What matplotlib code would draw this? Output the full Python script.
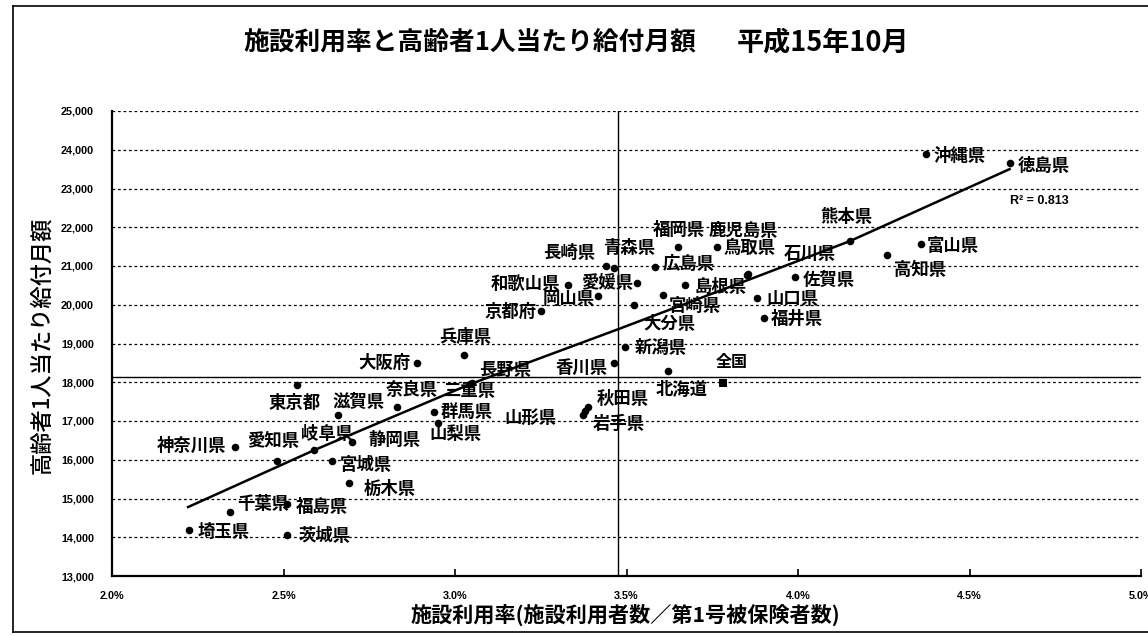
import matplotlib
matplotlib.use("Agg")
import matplotlib.pyplot as plt
from matplotlib.ticker import FixedLocator, FuncFormatter
from matplotlib.lines import Line2D

plt.rcParams['font.family'] = ['Noto Sans CJK JP', 'DejaVu Sans']

# ---------------- data ----------------
prefectures = ["北海道", "青森県", "岩手県", "宮城県", "秋田県", "山形県", "福島県",
               "茨城県", "栃木県", "群馬県", "埼玉県", "千葉県", "東京都", "神奈川県",
               "新潟県", "富山県", "石川県", "福井県", "山梨県", "長野県", "岐阜県",
               "静岡県", "愛知県", "三重県", "滋賀県", "京都府", "大阪府", "兵庫県",
               "奈良県", "和歌山県", "鳥取県", "島根県", "岡山県", "広島県", "山口県",
               "徳島県", "香川県", "愛媛県", "高知県", "福岡県", "佐賀県", "長崎県",
               "熊本県", "大分県", "宮崎県", "鹿児島県", "沖縄県"]
usage_rate = [3.62, 3.463, 3.373, 2.64, 3.388, 3.38, 2.51,
              2.51, 2.69, 2.94, 2.225, 2.345, 2.54, 2.36,
              3.495, 4.36, 3.853, 3.901, 2.95, 3.05, 2.59,
              2.70, 2.48, 3.044, 2.66, 3.25, 2.888, 3.025,
              2.83, 3.33, 3.763, 3.670, 3.417, 3.583, 3.881,
              4.617, 3.463, 3.531, 4.26, 3.649, 3.990, 3.44,
              4.152, 3.522, 3.605, 3.851, 4.373]
benefit = [18280, 20950, 17150, 15980, 17360, 17250, 14870,
           14070, 15390, 17230, 14175, 14650, 17920, 16320,
           18910, 21560, 20790, 19650, 16940, 17970, 16250,
           16470, 15980, 17950, 17150, 19830, 18500, 18710,
           17370, 20520, 21500, 20520, 20220, 20970, 20165,
           23660, 18485, 20550, 21290, 21500, 20710, 21000,
           21645, 20000, 20240, 20775, 23880]

trend_x = [2.222, 2.59, 3.044, 3.476, 3.837, 4.152, 4.617]
trend_y = [14780, 16250, 17950, 19370, 20580, 21645, 23500]
r_squared = 0.813

national_point = (3.78, 17990)
national_rate = 3.476
national_benefit = 18130

x_ticks = [2.0, 2.5, 3.0, 3.5, 4.0, 4.5, 5.0]
y_ticks = list(range(13000, 25001, 1000))

# ---------------- label layout (pixel offsets from each dot) ----------------
label_layout = {
    "北海道": (-12, -19, "left"), "青森県": (-11, 20, "left"), "岩手県": (10, -9, "left"),
    "宮城県": (8, -4, "left"), "秋田県": (9, 8, "left"), "山形県": (-81, -7, "left"),
    "福島県": (9, -3, "left"), "茨城県": (12, -1, "left"), "栃木県": (15, -6, "left"),
    "群馬県": (6, 0, "left"), "埼玉県": (8, -2, "left"), "千葉県": (7, 8, "left"),
    "東京都": (-29, -18, "left"), "神奈川県": (-9, 2, "right"), "新潟県": (10, -1, "left"),
    "富山県": (5, -2, "left"), "石川県": (36, 20, "left"), "福井県": (7, -1, "left"),
    "山梨県": (-8, -11, "left"), "長野県": (7, 13, "left"), "岐阜県": (-13, 16, "left"),
    "静岡県": (16, 2, "left"), "愛知県": (-30, 20, "left"), "三重県": (-26, -7, "left"),
    "滋賀県": (-6, 13, "left"), "京都府": (-4, -1, "right"), "大阪府": (-6, 0, "right"),
    "兵庫県": (-24, 18, "left"), "奈良県": (-11, 17, "left"), "和歌山県": (-8, 1, "right"),
    "鳥取県": (7, -1, "left"), "島根県": (10, -2, "left"), "岡山県": (-3, -3, "right"),
    "広島県": (8, 3, "left"), "山口県": (9, -1, "left"), "徳島県": (8, -3, "left"),
    "香川県": (-6, -5, "right"), "愛媛県": (-4, 0, "right"), "高知県": (7, -15, "left"),
    "福岡県": (-25, 17, "left"), "佐賀県": (8, -3, "left"), "長崎県": (-11, 13, "right"),
    "熊本県": (-30, 24, "left"), "大分県": (9, -19, "left"), "宮崎県": (6, -11, "left"),
    "鹿児島県": (-38, 44, "left"), "沖縄県": (8, -2, "left"),
}

# ---------------- figure ----------------
W, H = 1148, 636
fig = plt.figure(figsize=(W / 100, H / 100), dpi=100)
ax = fig.add_axes([112 / W, 1 - 576 / H, (1141 - 112) / W, (576 - 111) / H])

ax.set_xlim(2.0, 5.0)
ax.set_ylim(13000, 25000)

# grid
ax.yaxis.grid(True, linestyle=(0, (2.2, 2.2)), color="black", linewidth=0.9)
ax.set_axisbelow(True)

for s in ["top", "right"]:
    ax.spines[s].set_visible(False)
for s in ["left", "bottom"]:
    ax.spines[s].set_linewidth(1.6)
    ax.spines[s].set_color("black")

ax.xaxis.set_major_locator(FixedLocator(x_ticks))
ax.xaxis.set_major_formatter(FuncFormatter(lambda v, p: f"{v:.1f}%"))
ax.yaxis.set_major_locator(FixedLocator(y_ticks))
ax.yaxis.set_major_formatter(FuncFormatter(lambda v, p: f"{int(v):,}"))
ax.tick_params(axis="x", direction="in", length=5, width=1.2, pad=11)
ax.tick_params(axis="y", length=0, pad=13)
for lab in ax.get_xticklabels() + ax.get_yticklabels():
    lab.set_fontfamily(["Liberation Sans", "DejaVu Sans"])
    lab.set_fontweight("bold")
    lab.set_fontsize(7.8)

# reference lines (national averages)
ax.axvline(national_rate, color="black", linewidth=1.0)
ax.axhline(national_benefit, color="black", linewidth=1.0)

# trend line
ax.plot(trend_x, trend_y, color="black", linewidth=1.8, zorder=3)

# points
ax.scatter(usage_rate, benefit, s=30, color="black", zorder=4, linewidths=0)

for name, xv, yv in zip(prefectures, usage_rate, benefit):
    dx, dy, ha = label_layout[name]
    ax.annotate(name, (xv, yv), xytext=(dx, dy), textcoords="offset pixels",
                ha=ha, va="center", fontsize=12.5, fontweight="bold", zorder=5)

# national point
ax.scatter([national_point[0]], [national_point[1]], marker="s", s=32,
           color="black", zorder=4, linewidths=0)
ax.annotate("全国", national_point, xytext=(-7, 21), textcoords="offset pixels",
            ha="left", va="center", fontsize=11.5, fontweight="bold", zorder=5)

# R squared
ax.annotate(f"R² = {r_squared:.3f}", (trend_x[-1], trend_y[-1]), xytext=(0, -32),
            textcoords="offset pixels", ha="left", va="center",
            fontsize=9, fontweight="bold", family=["Liberation Sans", "DejaVu Sans"])

# titles
fig.text(243 / W, 1 - 42 / H, "施設利用率と高齢者1人当たり給付月額",
         ha="left", va="center", fontsize=18.5, fontweight="bold")
fig.text(823 / W, 1 - 42 / H, "平成15年10月",
         ha="center", va="center", fontsize=19.5, fontweight="bold")
fig.text(625 / W, 1 - 615 / H, "施設利用率(施設利用者数／第1号被保険者数)",
         ha="center", va="center", fontsize=15.2, fontweight="bold")
fig.text(42 / W, 1 - 345 / H, "高齢者1人当たり給付月額", rotation=90,
         ha="center", va="center", fontsize=16, fontweight="medium")

# outer frame
for (x0, y0, x1, y1) in [(13, 6, 13, 632), (13, 6, W, 6), (13, 632, W, 632)]:
    fig.add_artist(Line2D([x0 / W, x1 / W], [1 - y0 / H, 1 - y1 / H],
                          color="black", linewidth=1.2))

fig.savefig("out.png", dpi=100)
